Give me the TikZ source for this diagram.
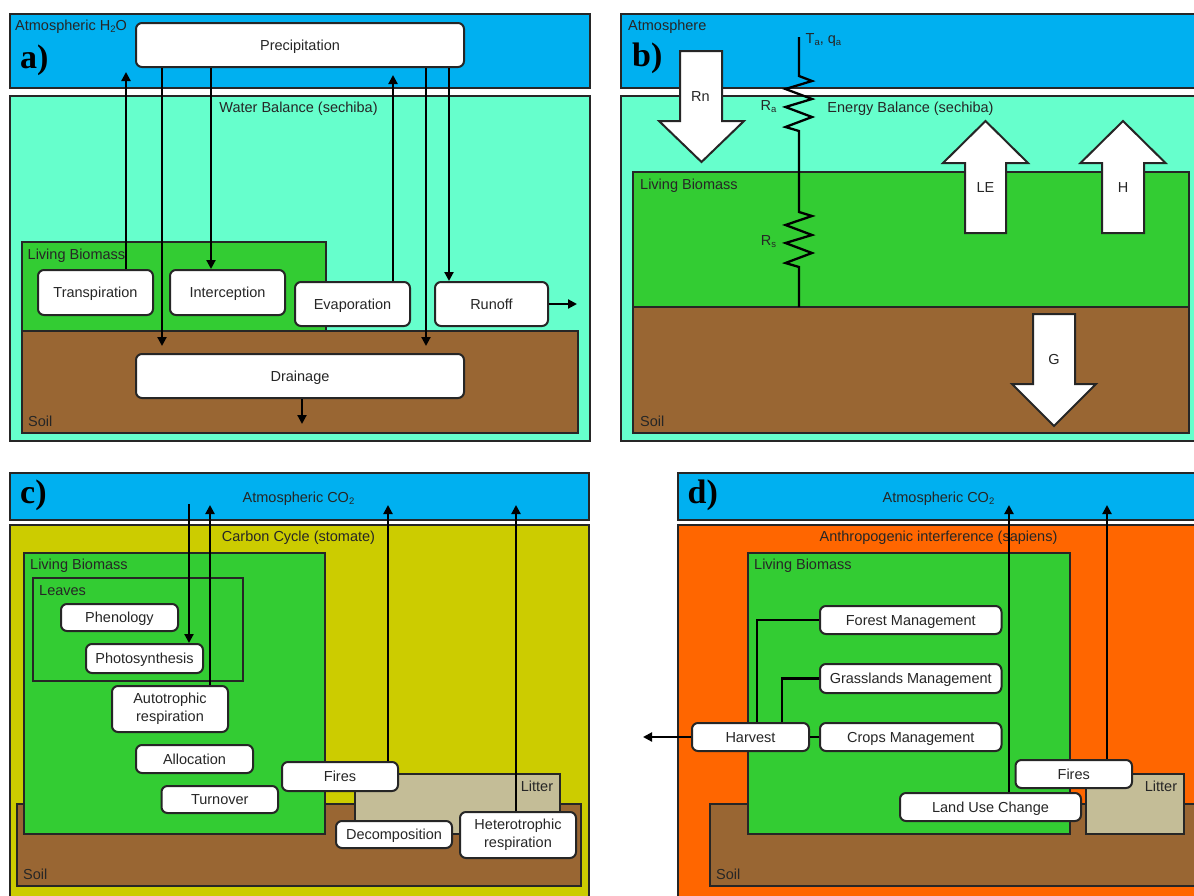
\documentclass[tikz,border=0pt]{standalone}
\usepackage{fontspec}
\setmainfont{Liberation Sans}
\newfontfamily\panelfont{Liberation Serif}
\usetikzlibrary{arrows.meta}
\definecolor{sky}{HTML}{00B0F0}
\definecolor{aqua}{HTML}{66FFCC}
\definecolor{leaf}{HTML}{33CC33}
\definecolor{soilc}{HTML}{996633}
\definecolor{olivec}{HTML}{CCCC00}
\definecolor{orangec}{HTML}{FF6600}
\definecolor{litterc}{HTML}{C4BD97}
\definecolor{ink}{HTML}{262626}
\newcommand{\zone}[7][]{\node[zonebox,fill=#7,#1,minimum width={(#4-#2)*1pt},minimum height={(#5-#3)*1pt}] (#6) at ({(#2+#4)/2},{(#3+#5)/2}) {};}
\newcommand{\proc}[6]{\node[procbox,minimum width={(#4-#2)*1pt},minimum height={(#5-#3)*1pt},label={[mid,align=center]center:{#6}}] (#1) at ({(#2+#4)/2},{(#3+#5)/2}) {};}
\newcommand{\lowsub}[1]{\raisebox{-0.3ex}{\fontsize{9.5}{10}\selectfont #1}}
\tikzset{
  x=1pt,y=-1pt,
  every node/.style={text=ink,font=\fontsize{14.5}{18}\selectfont},
  zonebox/.style={draw=ink,line width=2pt,inner sep=0pt},
  procbox/.style={draw=ink,fill=white,line width=2pt,rounded corners=6pt,inner sep=0pt},
  flow/.style={draw=black,line width=2.1pt,-{Triangle[length=9pt,width=9pt]}},
  link/.style={draw=black,line width=2.1pt},
  resist/.style={draw=black,line width=2.3pt,line join=miter},
  fat/.style={draw=ink,fill=white,line width=2pt},
  tag/.style={anchor=west,inner sep=0pt,yshift=-1.4pt,execute at begin node=\strut,execute at end node=\strut},
  mid/.style={anchor=center,inner sep=0pt,yshift=-1.4pt,execute at begin node=\strut,execute at end node=\strut},
  panel/.style={anchor=base west,inner sep=0pt,text=black,font=\panelfont\bfseries\fontsize{34}{34}\selectfont},
}
\begin{document}
\begin{tikzpicture}
\clip (0,0) rectangle (1194,895);
% ---------- a
\zone{9.5}{14}{589.5}{88}{aAtm}{sky}
\zone{9.5}{95.5}{589.5}{441}{aWat}{aqua}
\zone{21.5}{242}{326}{331}{aBio}{leaf}
\zone{21.5}{331}{578}{433}{aSoil}{soilc}
\node[tag] (aL1) at (15,25) {Atmospheric H\lowsub{2}O};
\node[panel] (aP) at (20,68) {a)};
\node[mid] (aL2) at (298.5,107) {Water Balance (sechiba)};
\node[tag] (aL3) at (27.5,254) {Living Biomass};
\node[tag] (aL4) at (28,421) {Soil};
\proc{prec}{136}{23}{464}{67}{Precipitation}
\proc{trans}{38}{270}{153}{315}{Transpiration}
\proc{inter}{170}{270}{285}{315}{Interception}
\proc{evap}{295}{282}{410}{326}{Evaporation}
\proc{run}{435}{282}{548}{326}{Runoff}
\proc{drain}{136}{354}{464}{398}{Drainage}
\coordinate (a1) at (126,72);
\coordinate (a2) at (162,346);
\coordinate (a3) at (393,75);
\coordinate (a4) at (426,346);
\coordinate (a5) at (577,304);
\coordinate (a6) at (302,424);
\draw[flow] (a1 |- trans.north) -- (a1);
\draw[flow] (a2 |- prec.south) -- (a2);
\draw[flow] (prec.south -| 211,0) -- (inter.north -| 211,0);
\draw[flow] (a3 |- evap.north) -- (a3);
\draw[flow] (a4 |- prec.south) -- (a4);
\draw[flow] (prec.south -| 449,0) -- (run.north -| 449,0);
\draw[flow] (run.east) -- (a5);
\draw[flow] (a6 |- drain.south) -- (a6);
% ---------- b
\zone{621}{14}{1200}{88}{bAtm}{sky}
\zone{621}{95.5}{1200}{441}{bEn}{aqua}
\zone{633}{172}{1188.5}{307}{bBio}{leaf}
\zone{633}{307}{1188.5}{433}{bSoil}{soilc}
\node[tag] (bL1) at (628,25) {Atmosphere};
\node[panel] (bP) at (632,66) {b)};
\node[mid] (bL2) at (910.5,107) {Energy Balance (sechiba)};
\node[tag] (bL3) at (640,184) {Living Biomass};
\node[tag] (bL4) at (640,421) {Soil};
\node[tag] (bTa) at (805.5,38) {T\lowsub{a}, q\lowsub{a}};
\node[mid] (bRa) at (768.5,105) {R\lowsub{a}};
\node[mid] (bRs) at (768.5,240) {R\lowsub{s}};
\coordinate (rTop) at (799,37);
\coordinate (rBot) at (799,307);
\draw[resist] (rTop) -- (799,76) -- (812,81) -- (785.5,89) -- (812,99) -- (785.5,107) -- (812,117) -- (785.5,127) -- (799,131) -- (799,212) -- (812,216) -- (785.5,225) -- (812,235) -- (785.5,243) -- (812,253) -- (785.5,263) -- (799,267) -- (rBot);
\draw[fat] (680,51) -- (722,51) -- (722,121) -- (744,121) -- (701.5,162) -- (659,121) -- (680,121) -- cycle;
\draw[fat] (965,233) -- (1006,233) -- (1006,163) -- (1028,163) -- (985.5,121) -- (943,163) -- (965,163) -- cycle;
\draw[fat] (1102,233) -- (1144,233) -- (1144,163) -- (1165.5,163) -- (1123,121) -- (1080.5,163) -- (1102,163) -- cycle;
\draw[fat] (1033,314) -- (1075,314) -- (1075,384) -- (1096,384) -- (1054,426) -- (1012,384) -- (1033,384) -- cycle;
\node[mid] (bRn) at (700.5,96) {Rn};
\node[mid] (bLE) at (985.5,187.5) {LE};
\node[mid] (bH) at (1123,187.5) {H};
\node[mid] (bG) at (1054,359.5) {G};
% ---------- c
\zone{9.5}{473}{588.5}{520}{cAtm}{sky}
\zone{9.5}{525}{588.5}{900}{cCar}{olivec}
\zone{17}{804}{581}{886}{cSoil}{soilc}
\zone{355}{774}{560}{834}{cLit}{litterc}
\zone{23.5}{552.5}{325}{834}{cBio}{leaf}
\zone{33}{578}{243}{681}{cLeaf}{leaf}
\node[panel] (cP) at (20,503) {c)};
\node[mid] (cL1) at (298.5,497) {Atmospheric CO\lowsub{2}};
\node[mid] (cL2) at (298.5,536) {Carbon Cycle (stomate)};
\node[tag] (cL3) at (30,564) {Living Biomass};
\node[tag] (cL4) at (39,590) {Leaves};
\node[tag] (cL5) at (23,874) {Soil};
\node[mid] (cL6) at (537,786) {Litter};
\proc{phen}{61}{604}{178}{631}{Phenology}
\proc{phot}{86}{644}{203}{673}{Photosynthesis}
\proc{auto}{112}{686}{228}{732}{Autotrophic\\respiration}
\proc{alloc}{136}{745}{253}{773}{Allocation}
\proc{turn}{161.5}{786}{278}{813}{Turnover}
\proc{cfire}{282}{762}{398}{791}{Fires}
\proc{decomp}{336}{821}{452}{848}{Decomposition}
\proc{hetero}{460}{812}{576}{858}{Heterotrophic\\respiration}
\coordinate (c1) at (189,504);
\coordinate (c2) at (210,505);
\coordinate (c3) at (388,505);
\coordinate (c4) at (516,505);
\draw[flow] (c1) -- (c1 |- phot.north);
\draw[flow] (c2 |- auto.north) -- (c2);
\draw[flow] (c3 |- cfire.north) -- (c3);
\draw[flow] (c4 |- hetero.north) -- (c4);
% ---------- d
\zone{677.5}{473}{1200}{520}{dAtm}{sky}
\zone{677.5}{525}{1200}{900}{dAnt}{orangec}
\zone{710}{804}{1200}{886}{dSoil}{soilc}
\zone{1085.5}{774}{1184}{834}{dLit}{litterc}
\zone{747.5}{552.5}{1069.5}{834}{dBio}{leaf}
\node[panel] (dP) at (687.5,503) {d)};
\node[mid] (dL1) at (938.5,497) {Atmospheric CO\lowsub{2}};
\node[mid] (dL2) at (938.5,536) {Anthropogenic interference (sapiens)};
\node[tag] (dL3) at (754,564) {Living Biomass};
\node[tag] (dL4) at (716,874) {Soil};
\node[mid] (dL5) at (1161,786) {Litter};
\coordinate (d1) at (757,620);
\coordinate (d2) at (782,678.5);
\coordinate (d3) at (643,737);
\coordinate (d4) at (1009,505);
\coordinate (d5) at (1107,505);
\draw[link] (820,620) -- (d1) -- (d1 |- 0,723);
\draw[link] (820,678.5) -- (d2) -- (d2 |- 0,723);
\proc{forest}{820}{606}{1001.5}{634}{Forest Management}
\proc{grass}{820}{664}{1001.5}{693}{Grasslands Management}
\proc{crops}{820}{723}{1001.5}{751}{Crops Management}
\proc{harv}{692}{723}{809}{751}{Harvest}
\proc{dfire}{1015.5}{760}{1132}{788}{Fires}
\proc{luc}{900}{793}{1081}{821}{Land Use Change}
\draw[link] (crops.west) -- (harv.east);
\draw[flow] (harv.west) -- (d3);
\draw[flow] (d4 |- luc.north) -- (d4);
\draw[flow] (d5 |- dfire.north) -- (d5);
\end{tikzpicture}
\end{document}
